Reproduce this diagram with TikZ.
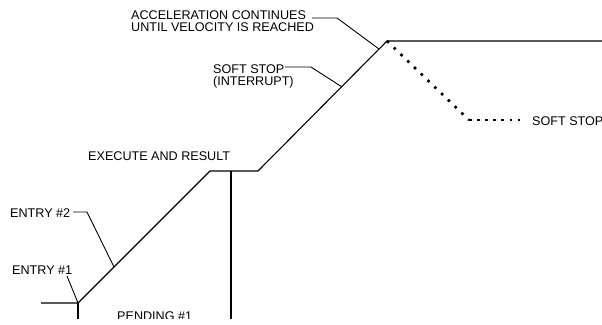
\documentclass[tikz,border=0pt]{standalone}
\usepackage{fontspec}
\setmainfont{Liberation Sans}
\begin{document}
\begin{tikzpicture}[x=1pt,y=-1pt,
  prof/.style={line width=1.1pt, line join=miter},
  lead/.style={line width=0.9pt},
  dotline/.style={line width=2.6pt, dash pattern=on 2.6pt off 6.8pt},
  dotline2/.style={line width=2.6pt, dash pattern=on 2.6pt off 5.5pt},
  lbl/.style={inner sep=0pt, anchor=base west, align=left, font=\fontsize{12.6}{11.8}\selectfont}]
\useasboundingbox (0,0) rectangle (602,324);
\clip (0,0) rectangle (602,318);
% profile corners
\coordinate (p0) at (41,303);
\coordinate (p1) at (78,303);
\coordinate (p1b) at (78,320);
\coordinate (p2) at (210,171);
\coordinate (pv) at (231,171);
\coordinate (pvb) at (231,320);
\coordinate (p3) at (258,171);
\coordinate (p4) at (387,41);
\coordinate (p5) at (602,41);
\coordinate (d1) at (469,120);
\coordinate (d2) at (523,120);
% leader points
\coordinate (a0) at (312,18);
\coordinate (a1) at (337,18);
\coordinate (a2) at (379,49);
\coordinate (s0) at (285,67);
\coordinate (s1) at (311,67);
\coordinate (s2) at (342,87);
\coordinate (e20) at (73,212);
\coordinate (e21) at (87,212);
\coordinate (e22) at (114,267);
\coordinate (e10) at (67,276);
% labels (base = baseline of last line)
\node[lbl] (acc) at (131,31) {ACCELERATION CONTINUES\\UNTIL VELOCITY IS REACHED};
\node[lbl] (ss) at (213,85.5) {SOFT STOP\\(INTERRUPT)};
\node[lbl] (ex) at (88,160.3) {EXECUTE AND RESULT};
\node[lbl] (en2) at (10,217.3) {ENTRY \#2};
\node[lbl] (en1) at (12,274.5) {ENTRY \#1};
\node[lbl] (pen) at (117,320) {PENDING \#1};
\node[lbl] (ss2) at (532,125.3) {SOFT STOP};
% profile
\draw[prof] (p0) -- (p1) -- (p2) -- (p3) -- (p4) -- (p5);
\draw[prof] (p1) -- (p1b);
\draw[prof] (pv) -- (pvb);
\draw[dotline] (p4) -- (d1);
\draw[dotline2] (d1) -- (d2);
% leaders
\draw[lead] (a0) -- (a1) -- (a2);
\draw[lead] (s0) -- (s1) -- (s2);
\draw[lead] (e20) -- (e21) -- (e22);
\draw[lead] (e10) -- (p1);
\end{tikzpicture}
\end{document}
